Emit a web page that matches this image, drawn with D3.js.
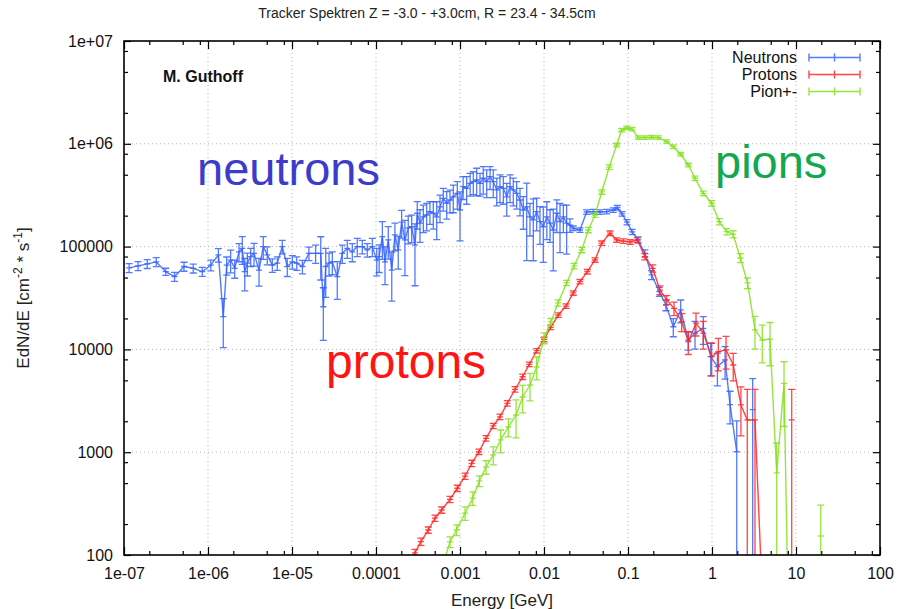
<!DOCTYPE html>
<html>
<head>
<meta charset="utf-8">
<script src="https://cdn.jsdelivr.net/npm/d3@7"></script>
<style>
  body { margin: 0; background: #fff; }
  text { font-family: "Liberation Sans", Arial, Helvetica, sans-serif; }
</style>
</head>
<body>
<svg id="chart" width="897" height="609"></svg>
<script>
// ---- Axis ticks ----
const xTickValues = [1e-7, 1e-6, 1e-5, 1e-4, 1e-3, 1e-2, 1e-1, 1, 10, 100];
const xTickLabels = ["1e-07", "1e-06", "1e-05", "0.0001", "0.001", "0.01", "0.1", "1", "10", "100"];
const yTickValues = [1e2, 1e3, 1e4, 1e5, 1e6, 1e7];
const yTickLabels = ["100", "1000", "10000", "100000", "1e+06", "1e+07"];
const minorMultipliers = [2, 5, 8];

// ---- Neutrons: energy [GeV], EdN/dE, relative error ----
const neutronEnergy = [
  1.15e-7, 1.47e-7, 1.89e-7, 2.42e-7, 3.14e-7, 4.0e-7, 5.18e-7, 6.68e-7, 8.55e-7, 1.08e-6,
  1.33e-6, 1.52e-6, 1.67e-6, 1.86e-6, 2.08e-6, 2.34e-6, 2.56e-6, 2.74e-6, 2.94e-6, 3.22e-6,
  3.53e-6, 4.05e-6, 4.55e-6, 5.08e-6, 5.83e-6, 6.68e-6, 7.66e-6, 8.79e-6, 1.01e-5, 1.14e-5,
  1.33e-5, 1.59e-5, 1.91e-5, 2.20e-5, 2.36e-5, 2.52e-5, 2.76e-5, 3.02e-5, 3.46e-5, 3.97e-5,
  4.55e-5, 5.22e-5, 5.98e-5, 6.87e-5, 7.87e-5, 9.04e-5, 1.02e-4, 1.09e-4, 1.19e-4,
  1.28e-4, 1.40e-4, 1.54e-4, 1.68e-4, 1.84e-4, 2.02e-4, 2.21e-4, 2.42e-4, 2.66e-4, 2.91e-4,
  3.10e-4, 3.34e-4, 3.66e-4, 4.01e-4, 4.39e-4, 4.81e-4, 5.28e-4, 5.78e-4, 6.32e-4, 6.95e-4,
  7.60e-4, 8.32e-4, 9.29e-4, 1.0e-3, 1.09e-3, 1.20e-3, 1.32e-3, 1.44e-3, 1.58e-3, 1.73e-3,
  1.89e-3, 2.08e-3, 2.28e-3, 2.49e-3, 2.74e-3, 2.99e-3, 3.28e-3, 3.60e-3, 3.94e-3, 4.31e-3,
  4.73e-3, 5.18e-3, 5.67e-3, 6.22e-3, 6.81e-3, 7.46e-3, 8.18e-3, 8.96e-3, 9.81e-3, 1.08e-2,
  1.18e-2, 1.29e-2, 1.42e-2, 1.55e-2, 1.70e-2, 1.86e-2, 2.04e-2,
  2.23e-2, 2.68e-2, 3.22e-2, 3.86e-2, 4.64e-2, 5.57e-2, 6.68e-2, 7.46e-2, 8.49e-2, 9.73e-2,
  0.112, 0.132, 0.159, 0.191, 0.236, 0.283, 0.346, 0.424, 0.522, 0.628,
  0.787, 0.966, 1.16, 1.43, 1.64, 1.97, null, 3.05
];
const neutronFlux = [
  6.2e4, 6.5e4, 6.8e4, 7.1e4, 5.7e4, 5.1e4, 6.4e4, 6.15e4, 5.7e4, 6.6e4,
  8.3e4, 2.08e4, 6.6e4, 7.4e4, 6.15e4, 8.9e4, 9.6e4, 5.7e4, 6.9e4, 8.0e4,
  8.6e4, 5.9e4, 1.0e5, 8.3e4, 6.6e4, 6.9e4, 1.0e5, 6.4e4, 7.1e4, 6.9e4,
  6.4e4, 8.6e4, 8.6e4, 8.6e4, 2.6e4, 6.4e4, 6.9e4, 7.1e4, 5.1e4, 8.6e4,
  9.6e4, 8.9e4, 1.0e5, 1.0e5, 9.3e4, 1.0e5, 7.4e4, 8.0e4, 1.25e5,
  7.1e4, 1.16e5, 5.9e4, 1.3e5, 9.3e4, 1.73e5, 1.16e5, 1.52e5, 1.56e5, 1.04e5,
  2.11e5, 1.69e5, 1.95e5, 2.03e5, 2.19e5, 2.11e5, 1.95e5, 2.44e5, 2.95e5, 2.64e5,
  2.84e5, 3.05e5, 3.3e5, 2.27e5, 3.83e5, 3.69e5, 4.13e5, 4.28e5, 4.45e5, 4.13e5,
  4.62e5, 4.28e5, 4.79e5, 4.28e5, 3.56e5, 3.83e5, 3.69e5, 3.05e5, 3.83e5, 3.56e5,
  3.3e5, 2.84e5, 2.27e5, 2.44e5, 1.95e5, 1.82e5, 2.19e5, 1.75e5, 1.56e5, 1.95e5,
  1.69e5, 1.45e5, 2.11e5, 1.75e5, 1.95e5, 1.69e5, 1.62e5,
  1.51e5, 1.45e5, 2.17e5, 2.19e5, 2.17e5, 2.19e5, 2.27e5, 2.39e5, 2.08e5, 1.73e5,
  1.39e5, 1.16e5, 8.6e4, 5.3e4, 3.64e4, 2.7e4, 1.66e4, 2.42e4, 1.23e4, 1.44e4,
  1.6e4, 8.5e3, 6.8e3, 7.9e3, 2.9e3, 1.01e3, null, 2.6e3
];
const neutronError = [
  0.1, 0.1, 0.1, 0.1, 0.08, 0.1, 0.1, 0.1, 0.1, 0.12,
  0.15, 0.5, 0.2, 0.25, 0.2, 0.2, 0.3, 0.35, 0.25, 0.2,
  0.25, 0.3, 0.25, 0.2, 0.15, 0.15, 0.15, 0.2, 0.15, 0.15,
  0.15, 0.15, 0.2, 0.45, 0.53, 0.5, 0.25, 0.25, 0.4, 0.2,
  0.2, 0.2, 0.2, 0.15, 0.15, 0.2, 0.3, 0.3, 0.4,
  0.4, 0.35, 0.5, 0.3, 0.35, 0.3, 0.55, 0.3, 0.3, 0.6,
  0.3, 0.35, 0.3, 0.3, 0.25, 0.3, 0.4, 0.3, 0.25, 0.3,
  0.25, 0.3, 0.3, 0.5, 0.25, 0.3, 0.25, 0.25, 0.3, 0.25,
  0.3, 0.3, 0.25, 0.3, 0.3, 0.3, 0.3, 0.35, 0.3, 0.3,
  0.3, 0.3, 0.35, 0.7, 0.35, 0.6, 0.35, 0.4, 0.55, 0.4,
  0.35, 0.6, 0.35, 0.5, 0.3, 0.5, 0.15,
  0.05, 0.05, 0.05, 0.05, 0.05, 0.05, 0.05, 0.05, 0.05, 0.06,
  0.06, 0.07, 0.08, 0.1, 0.1, 0.12, 0.2, 0.25, 0.2, 0.3,
  0.3, 0.35, 0.35, 0.35, 0.35, 1.0, null, 1.0
];

// ---- Protons ----
const protonEnergy = [
  2.40e-4, 2.91e-4, 3.43e-4, 4.19e-4, 5.04e-4, 6.05e-4, 7.60e-4, 9.29e-4, 1.15e-3, 1.38e-3,
  1.68e-3, 2.04e-3, 2.49e-3, 2.99e-3, 3.66e-3, 4.52e-3, 5.57e-3, 6.68e-3, 8.18e-3, 1.0e-2,
  1.20e-2, 1.48e-2, 1.83e-2, 2.23e-2, 2.68e-2, 3.28e-2, 4.05e-2, 4.86e-2, 6.11e-2, 7.33e-2,
  8.79e-2, 0.106, 0.129, 0.159, 0.197, 0.240, 0.289, 0.353, 0.436, 0.522,
  0.645, 0.787, 0.991, 1.19, 1.47, 1.79, 2.21, 2.63, 3.25, 3.97,
  null, 8.89
];
const protonFlux = [
  75, 105, 135, 175, 228, 274, 348, 446, 586, 780,
  1010, 1365, 1800, 2210, 2990, 4090, 5420, 7160, 9710, 1.25e4,
  1.64e4, 2.16e4, 2.64e4, 3.54e4, 4.56e4, 5.7e4, 7.41e4, 1.08e5, 1.35e5, 1.16e5,
  1.13e5, 1.11e5, 1.16e5, 7.98e4, 6.15e4, 3.78e4, 3.03e4, 2.51e4, 1.86e4, 1.19e4,
  1.8e4, 1.44e4, 8.5e3, 9.5e3, 9.9e3, 7.05e3, 2.88e3, 2.06e3, 2.06e3, 40,
  null, 2.06e3
];
const protonError = [
  0.08, 0.08, 0.08, 0.07, 0.07, 0.07, 0.07, 0.07, 0.07, 0.07,
  0.06, 0.06, 0.06, 0.06, 0.06, 0.06, 0.06, 0.05, 0.05, 0.05,
  0.05, 0.05, 0.05, 0.05, 0.05, 0.05, 0.05, 0.05, 0.05, 0.05,
  0.05, 0.05, 0.05, 0.07, 0.08, 0.1, 0.1, 0.15, 0.2, 0.25,
  0.25, 0.3, 0.35, 0.35, 0.35, 0.3, 0.5, 0.98, 0.98, 0,
  null, 0.98
];

// ---- Charged pions ----
const pionEnergy = [
  6.1e-4, 7.6e-4, 9.1e-4, 1.15e-3, 1.42e-3, 1.70e-3, 2.04e-3, 2.49e-3, 3.05e-3, 3.76e-3,
  4.65e-3, 5.57e-3, 6.81e-3, 8.18e-3, 1.0e-2, 1.21e-2, 1.47e-2, 1.86e-2, 2.28e-2, 2.81e-2,
  3.37e-2, 4.05e-2, 4.87e-2, 5.98e-2, 7.33e-2, 8.41e-2, 9.66e-2, 0.111, 0.133, 0.159,
  0.191, 0.230, 0.289, 0.346, 0.424, 0.522, 0.628, 0.787, 0.991, 1.22,
  1.50, 1.78, 2.18, 2.65, 3.25, 3.97, 4.90, 5.89, 7.20, 8.71,
  null, 19.7
];
const pionFlux = [
  75, 134, 175, 256, 358, 525, 718, 940, 1315, 1758,
  2301, 3443, 4505, 6745, 1.29e4, 1.85e4, 2.83e4, 4.43e4, 6.47e4, 9.27e4,
  1.45e5, 2.03e5, 3.40e5, 5.94e5, 9.73e5, 1.36e6, 1.43e6, 1.39e6, 1.15e6, 1.15e6,
  1.16e6, 1.15e6, 1.05e6, 9.37e5, 7.91e5, 6.22e5, 4.62e5, 3.30e5, 2.64e5, 1.75e5,
  1.40e5, 1.32e5, 7.75e4, 4.43e4, 1.55e4, 1.23e4, 1.26e4, 630, 4680, 1,
  null, 153
];
const pionError = [
  0.12, 0.12, 0.12, 0.15, 0.15, 0.12, 0.15, 0.2, 0.25, 0.2,
  0.4, 0.3, 0.3, 0.25, 0.12, 0.08, 0.07, 0.06, 0.06, 0.06,
  0.06, 0.05, 0.05, 0.05, 0.04, 0.04, 0.04, 0.04, 0.04, 0.04,
  0.04, 0.04, 0.04, 0.04, 0.04, 0.04, 0.05, 0.05, 0.06, 0.07,
  0.07, 0.08, 0.1, 0.12, 0.35, 0.4, 0.45, 0.95, 0.62, 0,
  null, 1.0
];

const seriesNames = ["Neutrons", "Protons", "Pion+-"];
const seriesColors = ["#3561ff", "#ff2424", "#84e01c"];

// ---- Layout ----
const plotLeft = 124, plotRight = 880, plotTop = 41, plotBottom = 555;
const svg = d3.select("#chart");
const x = d3.scaleLog().domain([1e-7, 100]).range([plotLeft, plotRight]);
const y = d3.scaleLog().domain([100, 1e7]).range([plotBottom, plotTop]);
const FLOOR = 1e-3;                       // values at or below zero fall off the bottom
const yc = v => y(Math.max(v, FLOOR));

svg.append("defs").append("clipPath").attr("id", "plotClip")
  .append("rect").attr("x", plotLeft).attr("y", plotTop)
  .attr("width", plotRight - plotLeft).attr("height", plotBottom - plotTop);

// ---- Grid ----
const grid = svg.append("g")
  .attr("stroke", "#b4b4b4").attr("stroke-width", 1).attr("stroke-dasharray", "1,3");
xTickValues.slice(1, -1).forEach(v => grid.append("line")
  .attr("x1", x(v)).attr("x2", x(v)).attr("y1", plotTop).attr("y2", plotBottom));
yTickValues.slice(1, -1).forEach(v => grid.append("line")
  .attr("x1", plotLeft).attr("x2", plotRight).attr("y1", y(v)).attr("y2", y(v)));

// ---- Series ----
function drawSeries(E, V, R, color) {
  const pts = E.map((e, i) => ({ e, v: V[i], r: R[i] }));
  const g = svg.append("g").attr("clip-path", "url(#plotClip)")
    .attr("stroke", color).attr("stroke-opacity", 0.85).attr("fill", "none");
  const line = d3.line()
    .defined(d => d.e != null && d.v != null)
    .x(d => x(d.e)).y(d => yc(d.v));
  g.append("path").attr("d", line(pts)).attr("stroke-width", 1.4).attr("stroke-linejoin", "round");
  g.selectAll("path.bar")
    .data(pts.filter(d => d.e != null && d.v != null && d.r > 0))
    .join("path").attr("class", "bar").attr("stroke-width", 1.3)
    .attr("d", d => {
      const px = x(d.e);
      const yl = yc(d.v * (1 - d.r)), yh = yc(d.v * (1 + d.r)), ym = yc(d.v);
      return `M${px},${yl}V${yh}M${px - 3.5},${yh}h7M${px - 3.5},${yl}h7M${px - 3},${ym}h6`;
    });
}
drawSeries(neutronEnergy, neutronFlux, neutronError, seriesColors[0]);
drawSeries(protonEnergy, protonFlux, protonError, seriesColors[1]);
drawSeries(pionEnergy, pionFlux, pionError, seriesColors[2]);

// ---- Axes (ticks inward, mirrored) ----
const minorX = xTickValues.slice(0, -1).flatMap(d => minorMultipliers.map(m => m * d));
const minorY = yTickValues.slice(0, -1).flatMap(d => minorMultipliers.map(m => m * d));

function styleAxis(g) {
  g.select(".domain").remove();
  g.selectAll(".tick line").attr("stroke", "#000").attr("stroke-width", 1.2);
  g.selectAll("text").attr("font-size", 16).attr("fill", "#111")
    .style("font-family", '"Liberation Sans", Arial, sans-serif');
}
svg.append("g").attr("transform", `translate(0,${plotBottom})`)
  .call(d3.axisBottom(x).tickValues(xTickValues).tickFormat((d, i) => xTickLabels[i])
    .tickSize(-8).tickPadding(13)).call(styleAxis);
svg.append("g").attr("transform", `translate(0,${plotBottom})`)
  .call(d3.axisBottom(x).tickValues(minorX).tickFormat("").tickSize(-4)).call(styleAxis);
svg.append("g").attr("transform", `translate(0,${plotTop})`)
  .call(d3.axisTop(x).tickValues(xTickValues).tickFormat("").tickSize(-8)).call(styleAxis);
svg.append("g").attr("transform", `translate(0,${plotTop})`)
  .call(d3.axisTop(x).tickValues(minorX).tickFormat("").tickSize(-4)).call(styleAxis);

svg.append("g").attr("transform", `translate(${plotLeft},0)`)
  .call(d3.axisLeft(y).tickValues(yTickValues).tickFormat((d, i) => yTickLabels[i])
    .tickSize(-7).tickPadding(11)).call(styleAxis);
svg.append("g").attr("transform", `translate(${plotLeft},0)`)
  .call(d3.axisLeft(y).tickValues(minorY).tickFormat("").tickSize(-4)).call(styleAxis);
svg.append("g").attr("transform", `translate(${plotRight},0)`)
  .call(d3.axisRight(y).tickValues(yTickValues).tickFormat("").tickSize(-7)).call(styleAxis);
svg.append("g").attr("transform", `translate(${plotRight},0)`)
  .call(d3.axisRight(y).tickValues(minorY).tickFormat("").tickSize(-4)).call(styleAxis);

svg.append("rect").attr("x", plotLeft).attr("y", plotTop)
  .attr("width", plotRight - plotLeft).attr("height", plotBottom - plotTop)
  .attr("fill", "none").attr("stroke", "#000").attr("stroke-width", 1.6);

// ---- Titles and axis labels ----
svg.append("text").attr("x", 427).attr("y", 18).attr("text-anchor", "middle")
  .attr("font-size", 14).attr("fill", "#222")
  .text("Tracker Spektren Z = -3.0 - +3.0cm, R = 23.4 - 34.5cm");

svg.append("text").attr("x", (plotLeft + plotRight) / 2).attr("y", 606).attr("text-anchor", "middle")
  .attr("font-size", 17).attr("fill", "#222").text("Energy [GeV]");

const yLab = svg.append("text").attr("transform", "translate(29,298) rotate(-90)")
  .attr("text-anchor", "middle").attr("font-size", 17).attr("fill", "#222");
yLab.append("tspan").text("EdN/dE [cm");
yLab.append("tspan").attr("dy", -7).attr("font-size", 12).text("-2");
yLab.append("tspan").attr("dy", 7).text(" * s");
yLab.append("tspan").attr("dy", -7).attr("font-size", 12).text("-1");
yLab.append("tspan").attr("dy", 7).text("]");

svg.append("text").attr("x", 163).attr("y", 82).attr("font-size", 16)
  .attr("font-weight", "bold").attr("fill", "#111").text("M. Guthoff");

// ---- Large annotations ----
svg.append("text").attr("x", 197).attr("y", 185).attr("font-size", 47)
  .attr("fill", "#3b3ccb").text("neutrons");
svg.append("text").attr("x", 715).attr("y", 178).attr("font-size", 47)
  .attr("fill", "#13a84f").text("pions");
svg.append("text").attr("x", 326).attr("y", 378).attr("font-size", 48)
  .attr("fill", "#ff1414").text("protons");

// ---- Legend ----
const legend = svg.append("g");
seriesNames.forEach((name, i) => {
  const cy = 57.5 + i * 17;
  legend.append("text").attr("x", 797).attr("y", cy + 5.5).attr("text-anchor", "end")
    .attr("font-size", 16).attr("fill", "#111").text(name);
  legend.append("path")
    .attr("d", `M809,${cy}H860M809,${cy - 4}V${cy + 4}M860,${cy - 4}V${cy + 4}M834.5,${cy - 4}V${cy + 4}`)
    .attr("stroke", seriesColors[i]).attr("stroke-opacity", 0.85)
    .attr("stroke-width", 1.4).attr("fill", "none");
});
</script>
</body>
</html>
